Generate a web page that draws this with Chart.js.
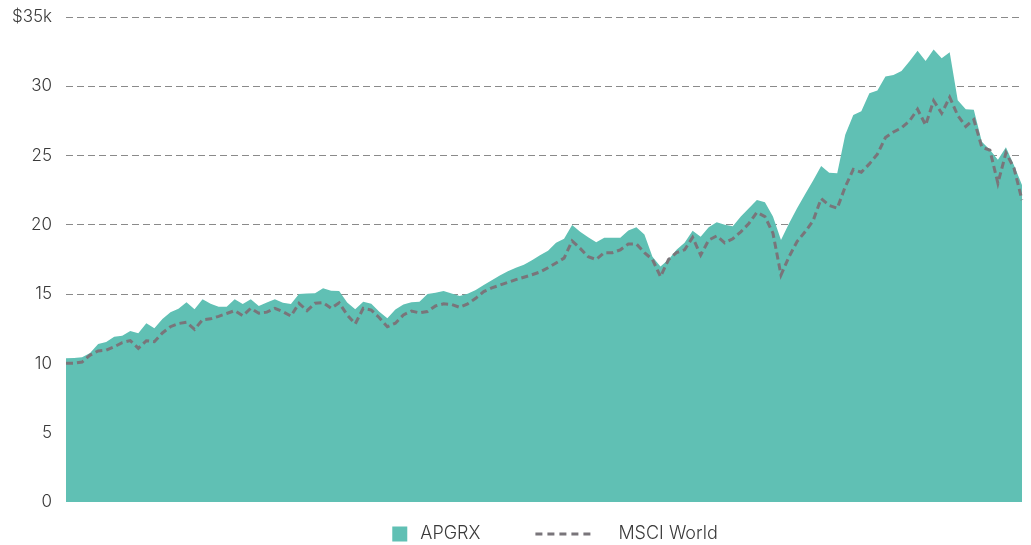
<!DOCTYPE html>
<html>
<head>
<meta charset="utf-8">
<script src="https://cdn.jsdelivr.net/npm/chart.js@4/dist/chart.umd.min.js"></script>
<style>
  html, body { margin: 0; padding: 0; background: #fff; }
  #wrap { width: 1031px; height: 545px; }
</style>
</head>
<body>
<div id="wrap"><canvas id="growthChart"></canvas></div>
<script>
// growth of $10k, values in $ thousands, monthly
const fundValues = [
  10.37, 10.40, 10.45, 10.75, 11.40, 11.55, 11.93, 12.00, 12.34, 12.17,
  12.90, 12.54, 13.20, 13.70, 13.95, 14.41, 13.91, 14.63, 14.30, 14.09,
  14.09, 14.63, 14.29, 14.63, 14.14, 14.40, 14.63, 14.38, 14.29, 15.01,
  15.05, 15.06, 15.42, 15.25, 15.23, 14.40, 13.91, 14.45, 14.30, 13.73,
  13.26, 13.90, 14.25, 14.41, 14.45, 15.01, 15.10, 15.22, 15.05, 14.87,
  15.02, 15.30, 15.66, 16.00, 16.35, 16.65, 16.90, 17.12, 17.45, 17.80,
  18.14, 18.70, 19.00, 19.99, 19.50, 19.10, 18.74, 19.07, 19.07, 19.07,
  19.60, 19.82, 19.30, 17.70, 17.00, 17.50, 18.20, 18.70, 19.58, 19.15,
  19.82, 20.18, 20.00, 19.90, 20.60, 21.20, 21.79, 21.63, 20.60, 18.91,
  20.10, 21.20, 22.20, 23.20, 24.25, 23.76, 23.72, 26.50, 27.93, 28.20,
  29.49, 29.70, 30.70, 30.81, 31.10, 31.80, 32.57, 31.82, 32.65, 32.02,
  32.45, 29.00, 28.34, 28.30, 26.00, 25.42, 24.70, 25.60, 24.30, 22.88
];
const indexValues = [
  10.01, 10.01, 10.10, 10.60, 10.90, 10.95, 11.20, 11.50, 11.65, 11.09,
  11.64, 11.57, 12.20, 12.65, 12.88, 12.97, 12.46, 13.15, 13.22, 13.40,
  13.60, 13.81, 13.44, 13.98, 13.62, 13.70, 13.98, 13.73, 13.42, 14.34,
  13.81, 14.34, 14.38, 13.98, 14.38, 13.50, 12.85, 13.98, 13.85, 13.30,
  12.65, 12.90, 13.50, 13.78, 13.65, 13.75, 14.15, 14.30, 14.25, 14.05,
  14.30, 14.70, 15.18, 15.45, 15.65, 15.85, 16.05, 16.22, 16.40, 16.60,
  16.90, 17.25, 17.60, 18.84, 18.30, 17.70, 17.50, 17.99, 17.99, 18.20,
  18.62, 18.62, 18.00, 17.50, 16.26, 17.50, 18.00, 18.20, 19.10, 17.82,
  18.90, 19.20, 18.70, 19.00, 19.50, 20.10, 20.90, 20.60, 19.40, 16.38,
  17.70, 18.80, 19.50, 20.30, 21.90, 21.40, 21.20, 22.75, 24.00, 23.80,
  24.40, 25.10, 26.30, 26.70, 27.00, 27.50, 28.34, 27.20, 28.96, 28.05,
  29.21, 27.90, 27.10, 27.60, 25.60, 25.40, 23.00, 25.20, 24.10, 21.79
];
const months = fundValues.map((v, i) => 'M' + (i + 1));
const yTicks = [0, 5, 10, 15, 20, 25, 30, 35];

const fundLabel = 'APGRX';
const indexLabel = 'MSCI World';
const teal = '#60c0b4';
const grey = '#79757a';
const FONT = '"Inter", "Noto Sans", sans-serif';

// legend drawn under the plot: teal swatch and a dashed line sample
const bottomLegend = {
  id: 'bottomLegend',
  afterDraw(chart) {
    const ctx = chart.ctx;
    const y = chart.height - 11;
    ctx.save();
    ctx.font = '300 18px ' + FONT;
    ctx.textBaseline = 'middle';
    const w1 = ctx.measureText(fundLabel).width;
    const w2 = ctx.measureText(indexLabel).width;
    const total = 15 + 13 + w1 + 55 + 57 + 26 + w2;
    let x = 555 - total / 2;
    ctx.fillStyle = teal;
    ctx.fillRect(x, y - 7.5, 15, 15);
    x += 28;
    ctx.fillStyle = '#3a3a3a';
    ctx.fillText(fundLabel, x, y);
    x += w1 + 55;
    ctx.strokeStyle = grey;
    ctx.lineWidth = 3;
    ctx.setLineDash([7, 5]);
    ctx.beginPath();
    ctx.moveTo(x, y);
    ctx.lineTo(x + 57, y);
    ctx.stroke();
    ctx.setLineDash([]);
    x += 57 + 26;
    ctx.fillText(indexLabel, x, y);
    ctx.restore();
  }
};

new Chart(document.getElementById('growthChart'), {
  type: 'line',
  data: {
    labels: months,
    datasets: [
      {
        label: indexLabel,
        data: indexValues,
        borderColor: grey,
        borderWidth: 3,
        borderDash: [7, 4],
        pointRadius: 0,
        fill: false,
        tension: 0,
        order: 0
      },
      {
        label: fundLabel,
        data: fundValues,
        borderWidth: 0,
        borderColor: teal,
        backgroundColor: teal,
        pointRadius: 0,
        fill: 'origin',
        tension: 0,
        order: 1
      }
    ]
  },
  options: {
    responsive: true,
    maintainAspectRatio: false,
    animation: false,
    layout: { padding: { top: 17, right: 9, bottom: 43, left: 0 } },
    plugins: {
      legend: { display: false },
      tooltip: { enabled: false }
    },
    scales: {
      x: { display: false },
      y: {
        min: 0,
        max: 35,
        afterFit(axis) {
          axis.width = 66;
          axis.paddingTop = 0;
          axis.paddingBottom = 0;
        },
        afterBuildTicks(axis) { axis.ticks = yTicks.map(v => ({ value: v })); },
        grid: {
          color: c => c.tick && c.tick.value === 0 ? 'rgba(0,0,0,0)' : '#8a8a8a',
          lineWidth: 1,
          drawTicks: false
        },
        border: { display: false, dash: [7, 4] },
        ticks: {
          padding: 14,
          color: '#3a3a3a',
          font: { family: FONT, size: 17, weight: 300 },
          callback: v => v === 35 ? '$35k' : v
        }
      }
    }
  },
  plugins: [bottomLegend]
});
</script>
</body>
</html>
